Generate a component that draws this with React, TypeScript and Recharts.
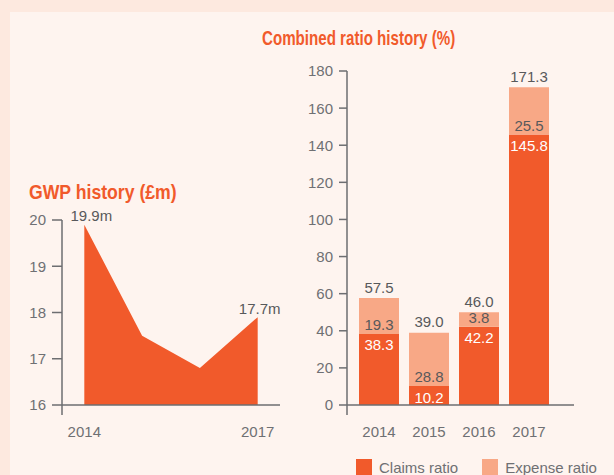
import React from 'react';
import { AreaChart, Area, BarChart, Bar, XAxis, YAxis, LabelList, Legend } from 'recharts';

const gwpYears = [2014, 2015, 2016, 2017];
const gwpValues = [19.9, 17.5, 16.8, 17.9];
const gwpLabels = ['19.9m', '', '', '17.7m'];
const gwpYTicks = [16, 17, 18, 19, 20];
const gwpXTicks = [2014, 2017];

const ratioYears = ['2014', '2015', '2016', '2017'];
const claimsRatio = [38.3, 10.2, 42.2, 145.8];
const expenseRatio = [19.3, 28.8, 7.8, 25.5];
const expenseLabels = ['19.3', '28.8', '3.8', '25.5'];
const totalLabels = ['57.5', '39.0', '46.0', '171.3'];
const ratioYTicks = [0, 20, 40, 60, 80, 100, 120, 140, 160, 180];

const gwpData = gwpYears.map((year, i) => ({ year, value: gwpValues[i] }));
const ratioData = ratioYears.map((year, i) => ({ year, claims: claimsRatio[i], expense: expenseRatio[i] }));

const ORANGE = '#f15a2b';
const LIGHT = '#f8a886';
const AXIS = '#6d6e71';
const TICK_TEXT = '#6f7073';
const LABEL_TEXT = '#58595b';
const FONT = '"Liberation Sans", Arial, sans-serif';
const TITLE_FONT = '"Liberation Sans", Arial, sans-serif';

const num = (v: any) => Number(v);
const box = (p: any) => {
  const v = p.viewBox || {};
  return {
    x: num(p.x ?? v.x),
    y: num(p.y ?? v.y),
    width: num(p.width ?? v.width ?? 0),
    height: num(p.height ?? v.height ?? 0),
  };
};

const makeYTick = (size: number, margin: number, minValue: number) => (props: any) => {
  const { x, y, payload } = props;
  const axisX = x + size + margin;
  return (
    <g>
      <text x={x} y={y} dy="0.36em" textAnchor="end" fill={TICK_TEXT} fontSize={15} fontFamily={FONT}>
        {payload.value}
      </text>
      {payload.value === minValue ? (
        <line x1={axisX} y1={y} x2={axisX} y2={y + 10} stroke={AXIS} strokeWidth={1.5} />
      ) : null}
    </g>
  );
};

const XTick = (props: any) => {
  const { x, y, payload } = props;
  return (
    <text x={x} y={y + 32} textAnchor="middle" fill={TICK_TEXT} fontSize={15} fontFamily={FONT}>
      {payload.value}
    </text>
  );
};

const GwpLabel = (props: any) => {
  const b = box(props);
  const i = props.index;
  const text = gwpLabels[i];
  if (!text) return null;
  return (
    <text x={b.x + (i === 0 ? 7 : 2)} y={b.y - 3.5} textAnchor="middle" fill={LABEL_TEXT} fontSize={15} fontFamily={FONT}>
      {text}
    </text>
  );
};

const ClaimsLabel = (props: any) => {
  const b = box(props);
  return (
    <text x={b.x + b.width / 2} y={b.y + 16.5} textAnchor="middle" fill="#ffffff" fontSize={15} fontFamily={FONT}>
      {claimsRatio[props.index].toFixed(1)}
    </text>
  );
};

const ExpenseLabel = (props: any) => {
  const b = box(props);
  return (
    <text x={b.x + b.width / 2} y={b.y + b.height - 3.8} textAnchor="middle" fill={LABEL_TEXT} fontSize={15} fontFamily={FONT}>
      {expenseLabels[props.index]}
    </text>
  );
};

const TotalLabel = (props: any) => {
  const b = box(props);
  return (
    <text x={b.x + b.width / 2} y={b.y - 5.5} textAnchor="middle" fill={LABEL_TEXT} fontSize={15} fontFamily={FONT}>
      {totalLabels[props.index]}
    </text>
  );
};

const renderLegend = (props: any) => {
  const payload = props.payload || [];
  return (
    <div style={{ display: 'flex', height: 16, alignItems: 'center', fontFamily: FONT, fontSize: 15, color: TICK_TEXT, whiteSpace: 'nowrap' }}>
      {payload.map((entry: any, i: number) => (
        <div key={i} style={{ display: 'flex', alignItems: 'center', marginRight: 24 }}>
          <div style={{ width: 16, height: 16, background: entry.color, marginRight: 7 }} />
          <span>{entry.value}</span>
        </div>
      ))}
    </div>
  );
};

const titleStyle = (left: number, top: number, scale: number): React.CSSProperties => ({
  position: 'absolute',
  left,
  top,
  lineHeight: '24px',
  fontFamily: TITLE_FONT,
  fontWeight: 700,
  fontSize: 21,
  color: ORANGE,
  whiteSpace: 'nowrap',
  transform: `scaleX(${scale})`,
  transformOrigin: '0 50%',
  letterSpacing: 0,
});

export default function App() {
  return (
    <div style={{ position: 'absolute', left: 0, top: 0, width: 614, height: 475, background: '#fde9df', overflow: 'hidden' }}>
      <div style={{ position: 'absolute', left: 10, top: 12, width: 604, height: 463, background: '#fef4ef' }} />
      <div style={titleStyle(29, 180, 0.84)}>GWP history (£m)</div>
      <div style={titleStyle(262, 26, 0.72)}>Combined ratio history (%)</div>
      <div style={{ position: 'absolute', left: 0, top: 0 }}>
        <AreaChart width={300} height={460} data={gwpData} margin={{ top: 220, left: 2, right: 20, bottom: 25 }}>
          <XAxis
            dataKey="year"
            type="number"
            domain={[2013.614, 2017.386]}
            ticks={gwpXTicks}
            allowDataOverflow
            height={30}
            tickSize={0}
            tickMargin={0}
            tickLine={false}
            axisLine={{ stroke: AXIS, strokeWidth: 1.5 }}
            tick={<XTick />}
          />
          <YAxis
            domain={[16, 20]}
            ticks={gwpYTicks}
            width={60}
            tickSize={10}
            tickMargin={6}
            axisLine={{ stroke: AXIS, strokeWidth: 1.5 }}
            tickLine={{ stroke: AXIS, strokeWidth: 1.5 }}
            tick={makeYTick(10, 6, 16)}
            allowDataOverflow
          />
          <Area dataKey="value" type="linear" fill={ORANGE} fillOpacity={1} stroke="none" isAnimationActive={false}>
            <LabelList dataKey="value" content={GwpLabel} />
          </Area>
        </AreaChart>
      </div>
      <div style={{ position: 'absolute', left: 290, top: 0 }}>
        <BarChart width={324} height={475} data={ratioData} margin={{ top: 71, left: 0, right: 40, bottom: 24 }}>
          <XAxis
            dataKey="year"
            padding={{ left: 7, right: 20 }}
            height={30}
            tickSize={0}
            tickMargin={0}
            tickLine={false}
            axisLine={{ stroke: AXIS, strokeWidth: 1.5 }}
            tick={<XTick />}
          />
          <YAxis
            domain={[0, 180]}
            ticks={ratioYTicks}
            width={57}
            tickSize={8}
            tickMargin={6}
            axisLine={{ stroke: AXIS, strokeWidth: 1.5 }}
            tickLine={{ stroke: AXIS, strokeWidth: 1.5 }}
            tick={makeYTick(8, 6, 0)}
          />
          <Legend
            verticalAlign="bottom"
            content={renderLegend}
            wrapperStyle={{ left: 66, top: 459, bottom: 'auto', width: 260, height: 16 }}
          />
          <Bar dataKey="claims" name="Claims ratio" stackId="r" fill={ORANGE} barSize={40} isAnimationActive={false}>
            <LabelList dataKey="claims" content={ClaimsLabel} />
          </Bar>
          <Bar dataKey="expense" name="Expense ratio" stackId="r" fill={LIGHT} barSize={40} isAnimationActive={false}>
            <LabelList dataKey="expense" content={ExpenseLabel} />
            <LabelList dataKey="expense" content={TotalLabel} />
          </Bar>
        </BarChart>
      </div>
    </div>
  );
}
